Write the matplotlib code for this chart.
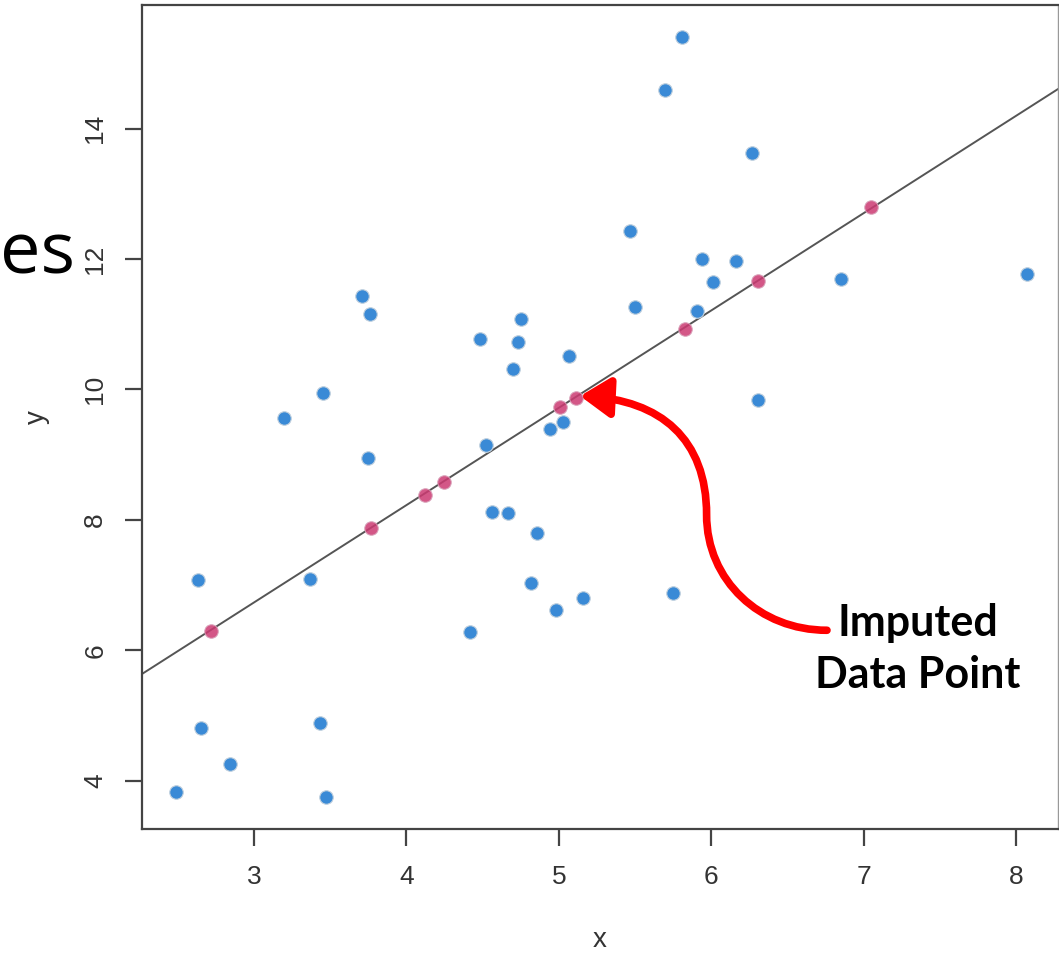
import matplotlib
matplotlib.use("Agg")
import matplotlib.pyplot as plt
from matplotlib.path import Path
from matplotlib.patches import FancyArrowPatch

# observed points
x_obs = [2.49, 2.63, 2.65, 2.84, 3.20, 3.37, 3.43, 3.45, 3.47, 3.71,
         3.76, 3.75, 4.42, 4.48, 4.52, 4.56, 4.67, 4.70, 4.73, 4.75,
         4.82, 4.86, 5.07, 4.94, 4.98, 5.03, 5.16, 5.47, 5.50, 5.70,
         5.75, 5.81, 5.91, 5.94, 6.01, 6.16, 6.27, 6.31, 6.85, 8.07]
y_obs = [3.83, 7.08, 4.81, 4.26, 9.56, 7.10, 4.89, 9.95, 3.76, 11.43,
         11.16, 8.95, 6.28, 10.77, 9.15, 8.12, 8.11, 10.31, 10.73, 11.08,
         7.03, 7.80, 10.51, 9.40, 6.62, 9.50, 6.81, 12.43, 11.26, 14.59,
         6.88, 15.40, 11.20, 12.00, 11.65, 11.97, 13.63, 9.84, 11.69, 11.77]

# imputed points (lie on the regression line)
x_imp = [2.72, 3.77, 4.12, 4.25, 5.01, 5.11, 5.83, 6.31, 7.05]
y_imp = [6.30, 7.88, 8.38, 8.58, 9.73, 9.87, 10.93, 11.66, 12.80]

# regression line
intercept = 2.262
slope = 1.4914

x_ticks = [3, 4, 5, 6, 7, 8]
y_ticks = [4, 6, 8, 10, 12, 14]
xlim = (2.265, 8.276)
ylim = (3.264, 15.893)

fig = plt.figure(figsize=(10.59, 9.55), dpi=100)
ax = fig.add_axes([142 / 1059, 1 - 829 / 955, 916 / 1059, 824 / 955])

ax.plot(xlim, [intercept + slope * v for v in xlim], color="#555555", lw=1.4, zorder=2)
ax.scatter(x_obs, y_obs, s=95, color="#3a8ad6", edgecolors="#c0d0de", linewidths=0.8, zorder=3)
ax.scatter(x_imp, y_imp, s=95, color="#cc3a72", alpha=0.85, edgecolors="#d8a0b8",
           linewidths=0.8, zorder=3)

ax.set_xlim(*xlim)
ax.set_ylim(*ylim)
ax.set_xticks(x_ticks)
ax.set_yticks(y_ticks)
ax.set_xticklabels([str(t) for t in x_ticks], family="Liberation Sans", fontsize=19, color="#333333")
ax.set_yticklabels([str(t) for t in y_ticks], family="Liberation Sans", fontsize=19, color="#333333",
                   rotation=90, va="center")
ax.tick_params(axis="both", length=12, width=1.6, color="#444444", direction="out")
ax.tick_params(axis="x", pad=14)
ax.tick_params(axis="y", pad=13)
for side in ["left", "bottom", "top"]:
    ax.spines[side].set_color("#444444")
    ax.spines[side].set_linewidth(1.6)
ax.spines["right"].set_color("#999999")
ax.spines["right"].set_linewidth(1.0)

ax.set_xlabel("x", family="Liberation Sans", fontsize=20, color="#333333", labelpad=27)
ax.set_ylabel("y", family="Liberation Sans", fontsize=20, color="#333333", labelpad=24)

# curved red arrow pointing at an imputed point
verts = [(6.76, 6.31), (6.32, 6.31), (5.97, 7.07), (5.97, 8.08),
         (5.97, 9.24), (5.67, 9.84), (5.14, 9.90)]
codes = [Path.MOVETO, Path.CURVE4, Path.CURVE4, Path.CURVE4,
         Path.CURVE4, Path.CURVE4, Path.CURVE4]
arrow = FancyArrowPatch(path=Path(verts, codes), arrowstyle="-|>,head_length=1.5,head_width=1.0",
                        color="#ff0000", lw=5.5, mutation_scale=12, shrinkA=0, shrinkB=0,
                        zorder=4)
ax.add_patch(arrow)

fig.text(918 / 1059, 1 - 649 / 955, "Imputed\nData Point", family="Lato", fontweight="bold",
         fontsize=31, ha="center", va="center", linespacing=1.38, color="black")

fig.text(0, 1 - 255 / 955, "es", family="Open Sans", fontsize=52, ha="left", va="center",
         color="black")

fig.savefig("out.png", dpi=100)
